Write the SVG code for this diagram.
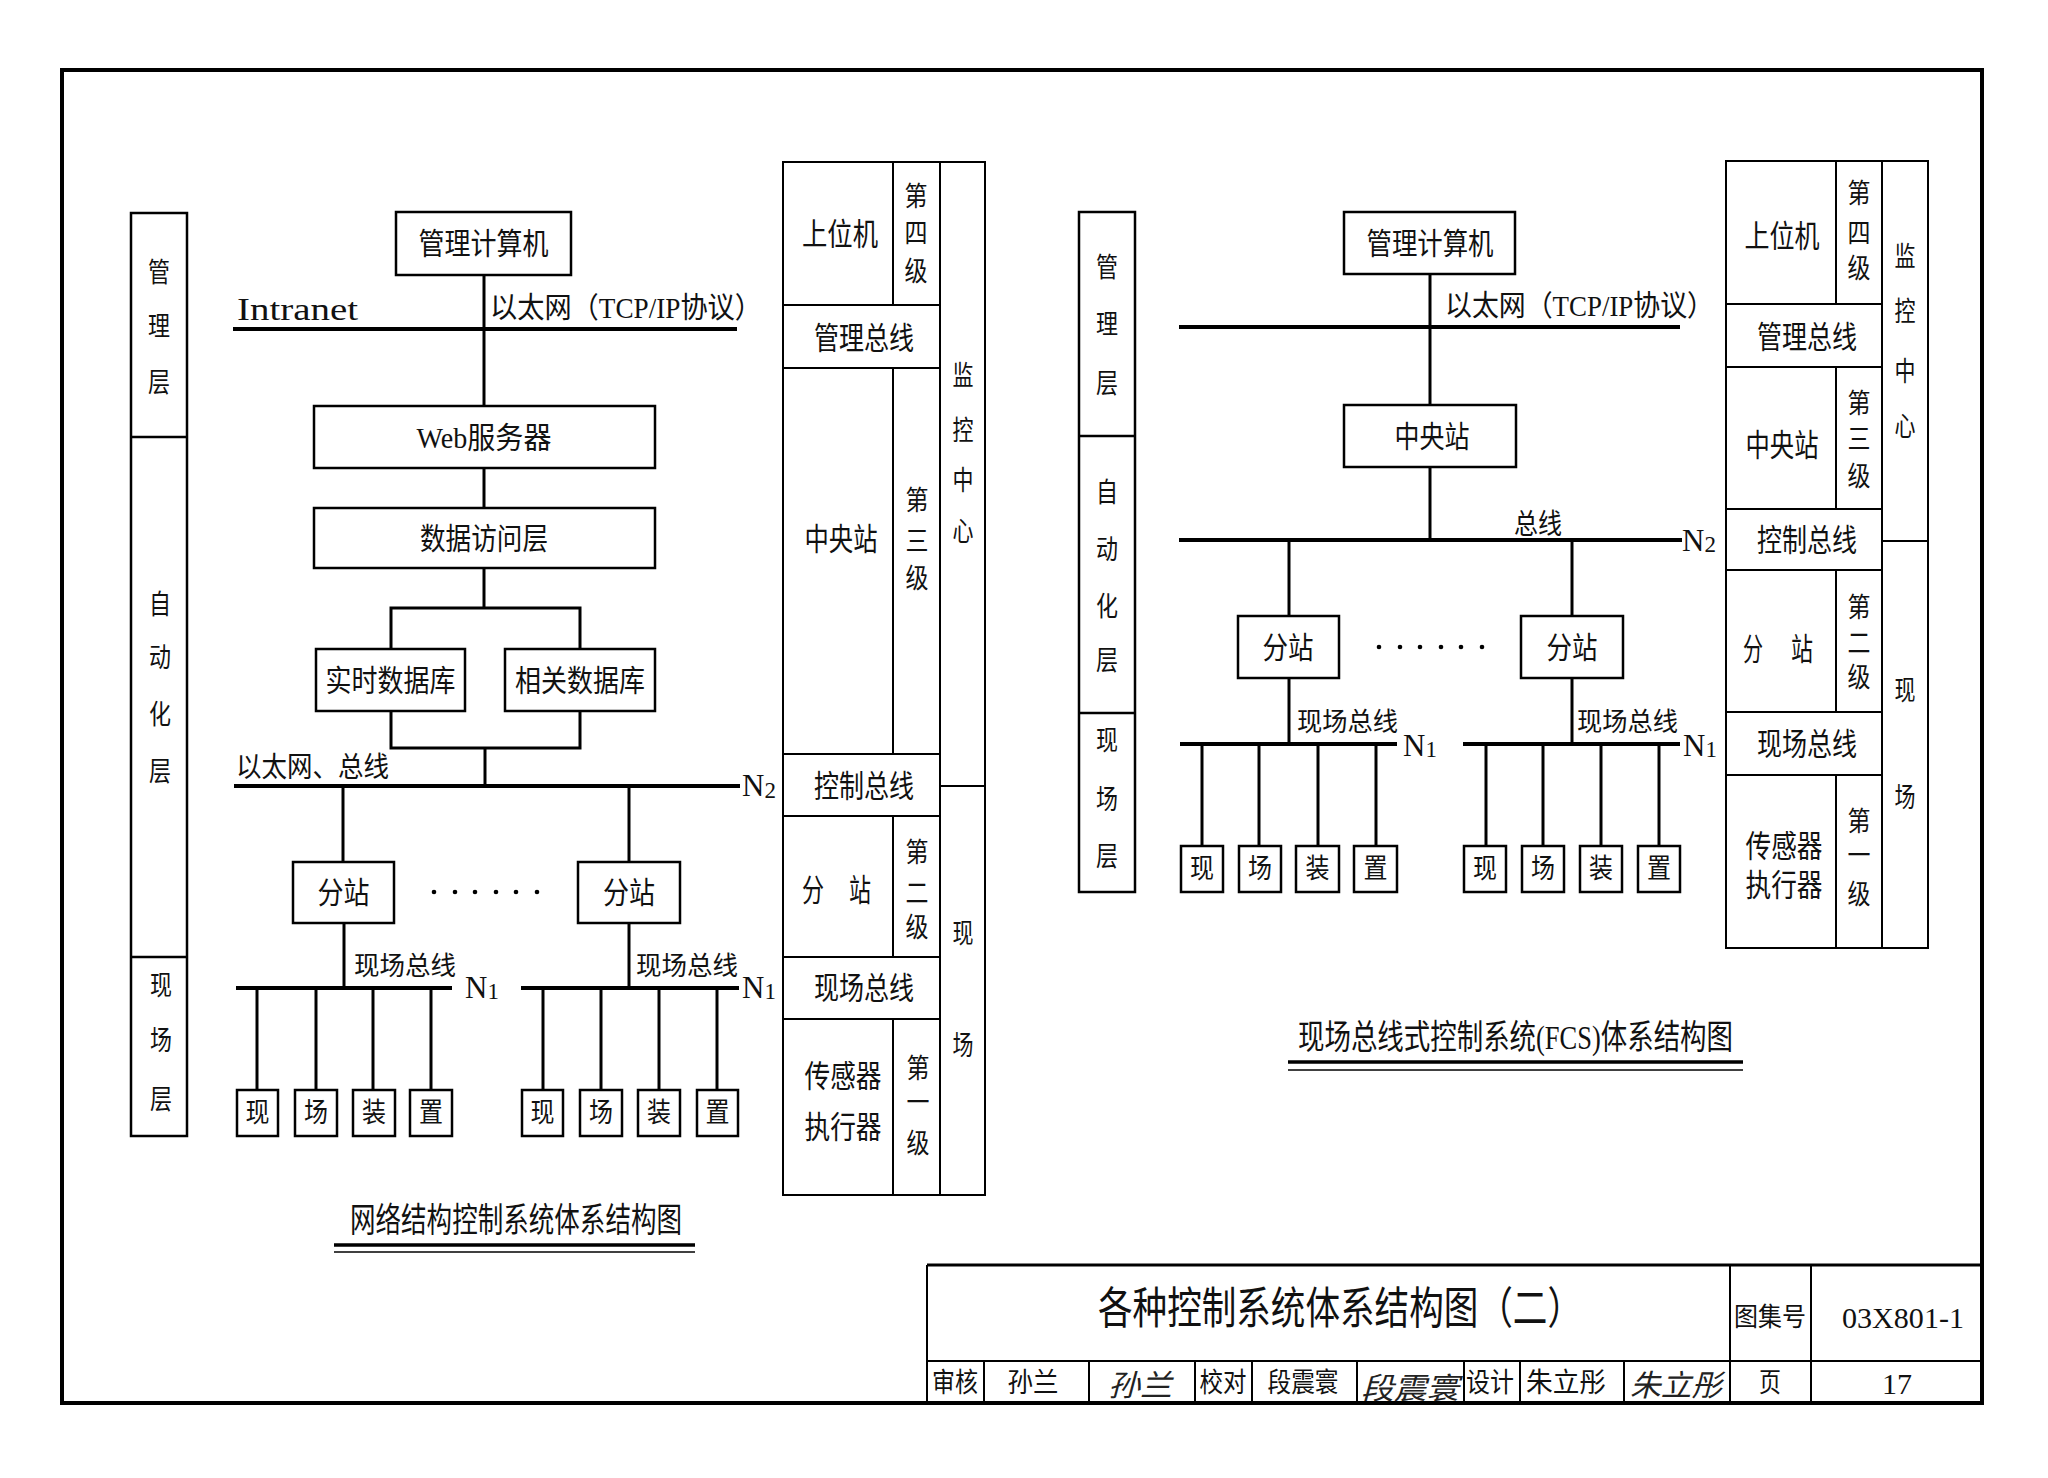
<svg xmlns="http://www.w3.org/2000/svg" width="2048" height="1478" viewBox="0 0 2048 1478">
<style>
.b{fill:none;stroke:#000;stroke-width:2.5}
.bus{stroke:#000;stroke-width:4;fill:none}
.ln{stroke:#000;stroke-width:3;fill:none}
.tl{stroke:#000;stroke-width:2;fill:none}
.t{font-family:"Liberation Serif","Noto Sans CJK SC",serif;font-size:30px;dominant-baseline:central;text-anchor:middle;fill:#111}
.s{text-anchor:start}
.c{font-size:27px}
.n{font-family:"Liberation Serif",serif;font-size:31px;fill:#111}
.sub{font-size:23px}
.fb{font-size:26px}
.sig{font-family:"Noto Sans CJK SC",sans-serif;font-size:30px;font-style:italic;dominant-baseline:central;text-anchor:middle;fill:#222}
.dot{fill:#000}
</style>
<rect width="2048" height="1478" fill="#fff"/>
<!-- frame -->
<rect x="62" y="70" width="1920" height="1333" fill="none" stroke="#000" stroke-width="4"/>

<!-- ============ LEFT DIAGRAM ============ -->
<g id="left-layers">
<rect class="b" x="131" y="213" width="56" height="923"/>
<line class="b" x1="131" y1="437" x2="187" y2="437"/>
<line class="b" x1="131" y1="957" x2="187" y2="957"/>
<text class="t c" x="159" y="273" textLength="22" lengthAdjust="spacingAndGlyphs">管</text>
<text class="t c" x="159" y="327" textLength="22" lengthAdjust="spacingAndGlyphs">理</text>
<text class="t c" x="159" y="383" textLength="22" lengthAdjust="spacingAndGlyphs">层</text>
<text class="t c" x="160" y="605" textLength="22" lengthAdjust="spacingAndGlyphs">自</text>
<text class="t c" x="160" y="658" textLength="22" lengthAdjust="spacingAndGlyphs">动</text>
<text class="t c" x="160" y="715" textLength="22" lengthAdjust="spacingAndGlyphs">化</text>
<text class="t c" x="160" y="772" textLength="22" lengthAdjust="spacingAndGlyphs">层</text>
<text class="t c" x="161" y="986" textLength="22" lengthAdjust="spacingAndGlyphs">现</text>
<text class="t c" x="161" y="1041" textLength="22" lengthAdjust="spacingAndGlyphs">场</text>
<text class="t c" x="161" y="1100" textLength="22" lengthAdjust="spacingAndGlyphs">层</text>
</g>

<g id="L-connectors">
<line class="ln" x1="484" y1="275" x2="484" y2="406"/>
<line class="bus" x1="233" y1="329" x2="737" y2="329"/>
<line class="ln" x1="484" y1="468" x2="484" y2="508"/>
<line class="ln" x1="484" y1="568" x2="484" y2="608"/>
<path class="ln" d="M391,649 V608 H580 V649"/>
<path class="ln" d="M391,711 V748 H580 V711"/>
<line class="ln" x1="485" y1="748" x2="485" y2="786"/>
<line class="bus" x1="234" y1="786" x2="740" y2="786"/>
<line class="ln" x1="343" y1="786" x2="343" y2="862"/>
<line class="ln" x1="629" y1="786" x2="629" y2="862"/>
<line class="ln" x1="344" y1="923" x2="344" y2="988"/>
<line class="ln" x1="629" y1="923" x2="629" y2="988"/>
<line class="bus" x1="236" y1="988" x2="452" y2="988"/>
<line class="bus" x1="521" y1="988" x2="739" y2="988"/>
<line class="ln" x1="257" y1="988" x2="257" y2="1090"/>
<line class="ln" x1="316" y1="988" x2="316" y2="1090"/>
<line class="ln" x1="373" y1="988" x2="373" y2="1090"/>
<line class="ln" x1="431" y1="988" x2="431" y2="1090"/>
<line class="ln" x1="543" y1="988" x2="543" y2="1090"/>
<line class="ln" x1="601" y1="988" x2="601" y2="1090"/>
<line class="ln" x1="659" y1="988" x2="659" y2="1090"/>
<line class="ln" x1="717" y1="988" x2="717" y2="1090"/>
</g>

<g id="L-mgmt-pc"><rect class="b" x="396" y="212" width="175" height="63"/><text class="t" x="483.5" y="243.5" textLength="130" lengthAdjust="spacingAndGlyphs">管理计算机</text></g>
<g id="L-web"><rect class="b" x="314" y="406" width="341" height="62"/><text class="t" x="484" y="437" textLength="135" lengthAdjust="spacingAndGlyphs">Web服务器</text></g>
<g id="L-dal"><rect class="b" x="314" y="508" width="341" height="60"/><text class="t" x="484" y="538" textLength="128" lengthAdjust="spacingAndGlyphs">数据访问层</text></g>
<g id="L-rtdb"><rect class="b" x="316" y="649" width="149" height="62"/><text class="t" x="390.5" y="680" textLength="130" lengthAdjust="spacingAndGlyphs">实时数据库</text></g>
<g id="L-reldb"><rect class="b" x="505" y="649" width="150" height="62"/><text class="t" x="580" y="680" textLength="130" lengthAdjust="spacingAndGlyphs">相关数据库</text></g>
<g id="L-sub1"><rect class="b" x="293" y="862" width="101" height="61"/><text class="t" x="343.5" y="892.5" textLength="52" lengthAdjust="spacingAndGlyphs">分站</text></g>
<g id="L-sub2"><rect class="b" x="578" y="862" width="102" height="61"/><text class="t" x="629" y="892.5" textLength="52" lengthAdjust="spacingAndGlyphs">分站</text></g>
<g id="L-dots">
<circle class="dot" cx="434" cy="892" r="2.3"/><circle class="dot" cx="455" cy="892" r="2.3"/><circle class="dot" cx="475" cy="892" r="2.3"/><circle class="dot" cx="496" cy="892" r="2.3"/><circle class="dot" cx="516" cy="892" r="2.3"/><circle class="dot" cx="537" cy="892" r="2.3"/>
</g>
<g id="L-dev-a">
<rect class="b" x="237" y="1090" width="41" height="46"/><text class="t c" x="257.5" y="1113" textLength="24" lengthAdjust="spacingAndGlyphs">现</text>
<rect class="b" x="295" y="1090" width="42" height="46"/><text class="t c" x="316" y="1113" textLength="24" lengthAdjust="spacingAndGlyphs">场</text>
<rect class="b" x="353" y="1090" width="42" height="46"/><text class="t c" x="374" y="1113" textLength="24" lengthAdjust="spacingAndGlyphs">装</text>
<rect class="b" x="410" y="1090" width="42" height="46"/><text class="t c" x="431" y="1113" textLength="24" lengthAdjust="spacingAndGlyphs">置</text>
</g>
<g id="L-dev-b">
<rect class="b" x="522" y="1090" width="41" height="46"/><text class="t c" x="542.5" y="1113" textLength="24" lengthAdjust="spacingAndGlyphs">现</text>
<rect class="b" x="580" y="1090" width="42" height="46"/><text class="t c" x="601" y="1113" textLength="24" lengthAdjust="spacingAndGlyphs">场</text>
<rect class="b" x="638" y="1090" width="42" height="46"/><text class="t c" x="659" y="1113" textLength="24" lengthAdjust="spacingAndGlyphs">装</text>
<rect class="b" x="697" y="1090" width="41" height="46"/><text class="t c" x="717.5" y="1113" textLength="24" lengthAdjust="spacingAndGlyphs">置</text>
</g>
<g id="L-labels">
<text class="t s" x="237" y="309" style="font-size:32px" textLength="121" lengthAdjust="spacingAndGlyphs">Intranet</text>
<text class="t s" x="490" y="308" style="font-size:29px" textLength="272" lengthAdjust="spacingAndGlyphs">以太网（TCP/IP协议）</text>
<text class="t s" x="236" y="767" style="font-size:28px" textLength="153" lengthAdjust="spacingAndGlyphs">以太网、总线</text>
<text class="n" x="742" y="796">N<tspan class="sub" dy="2">2</tspan></text>
<text class="t s fb" x="354" y="966" textLength="102" lengthAdjust="spacingAndGlyphs">现场总线</text>
<text class="t s fb" x="636" y="966" textLength="102" lengthAdjust="spacingAndGlyphs">现场总线</text>
<text class="n" x="465" y="998">N<tspan class="sub" dy="1">1</tspan></text>
<text class="n" x="742" y="998">N<tspan class="sub" dy="1">1</tspan></text>
</g>
<g id="L-caption">
<text class="t s" x="350" y="1220" style="font-size:34px" textLength="332" lengthAdjust="spacingAndGlyphs">网络结构控制系统体系结构图</text>
<line x1="334" y1="1245" x2="695" y2="1245" stroke="#000" stroke-width="3.5"/>
<line x1="334" y1="1252" x2="695" y2="1252" stroke="#000" stroke-width="1.5"/>
</g>

<g id="L-levels">
<rect class="tl" x="783" y="162" width="202" height="1033"/>
<line class="tl" x1="940" y1="162" x2="940" y2="1195"/>
<line class="tl" x1="783" y1="305" x2="940" y2="305"/>
<line class="tl" x1="783" y1="368" x2="940" y2="368"/>
<line class="tl" x1="783" y1="754" x2="940" y2="754"/>
<line class="tl" x1="783" y1="816" x2="940" y2="816"/>
<line class="tl" x1="783" y1="957" x2="940" y2="957"/>
<line class="tl" x1="783" y1="1019" x2="940" y2="1019"/>
<line class="tl" x1="893" y1="162" x2="893" y2="305"/>
<line class="tl" x1="893" y1="368" x2="893" y2="754"/>
<line class="tl" x1="893" y1="816" x2="893" y2="957"/>
<line class="tl" x1="893" y1="1019" x2="893" y2="1195"/>
<line class="tl" x1="940" y1="786" x2="985" y2="786"/>
<text class="t" x="840" y="234" style="font-size:31px" textLength="76" lengthAdjust="spacingAndGlyphs">上位机</text>
<text class="t c" x="916" y="197" textLength="23" lengthAdjust="spacingAndGlyphs">第</text>
<text class="t c" x="916" y="234" textLength="23" lengthAdjust="spacingAndGlyphs">四</text>
<text class="t c" x="916" y="272" textLength="23" lengthAdjust="spacingAndGlyphs">级</text>
<text class="t" x="864" y="338" style="font-size:31px" textLength="100" lengthAdjust="spacingAndGlyphs">管理总线</text>
<text class="t" x="841" y="539" style="font-size:31px" textLength="73" lengthAdjust="spacingAndGlyphs">中央站</text>
<text class="t c" x="917" y="501" textLength="23" lengthAdjust="spacingAndGlyphs">第</text>
<text class="t c" x="917" y="542" textLength="23" lengthAdjust="spacingAndGlyphs">三</text>
<text class="t c" x="917" y="579" textLength="23" lengthAdjust="spacingAndGlyphs">级</text>
<text class="t c" x="963" y="376" textLength="21" lengthAdjust="spacingAndGlyphs">监</text>
<text class="t c" x="963" y="431" textLength="21" lengthAdjust="spacingAndGlyphs">控</text>
<text class="t c" x="963" y="481" textLength="21" lengthAdjust="spacingAndGlyphs">中</text>
<text class="t c" x="963" y="532" textLength="21" lengthAdjust="spacingAndGlyphs">心</text>
<text class="t" x="864" y="786" style="font-size:31px" textLength="100" lengthAdjust="spacingAndGlyphs">控制总线</text>
<text class="t" x="813" y="890" style="font-size:31px" textLength="22" lengthAdjust="spacingAndGlyphs">分</text>
<text class="t" x="860" y="890" style="font-size:31px" textLength="22" lengthAdjust="spacingAndGlyphs">站</text>
<text class="t c" x="917" y="853" textLength="23" lengthAdjust="spacingAndGlyphs">第</text>
<text class="t c" x="917" y="894" textLength="23" lengthAdjust="spacingAndGlyphs">二</text>
<text class="t c" x="917" y="928" textLength="23" lengthAdjust="spacingAndGlyphs">级</text>
<text class="t" x="864" y="988" style="font-size:31px" textLength="100" lengthAdjust="spacingAndGlyphs">现场总线</text>
<text class="t" x="843" y="1076" style="font-size:31px" textLength="77" lengthAdjust="spacingAndGlyphs">传感器</text>
<text class="t" x="843" y="1127" style="font-size:31px" textLength="77" lengthAdjust="spacingAndGlyphs">执行器</text>
<text class="t c" x="918" y="1069" textLength="23" lengthAdjust="spacingAndGlyphs">第</text>
<text class="t c" x="918" y="1103" textLength="23" lengthAdjust="spacingAndGlyphs">一</text>
<text class="t c" x="918" y="1144" textLength="23" lengthAdjust="spacingAndGlyphs">级</text>
<text class="t c" x="963" y="934" textLength="21" lengthAdjust="spacingAndGlyphs">现</text>
<text class="t c" x="963" y="1046" textLength="21" lengthAdjust="spacingAndGlyphs">场</text>
</g>

<!-- ============ RIGHT DIAGRAM ============ -->
<g id="right-layers">
<rect class="b" x="1079" y="212" width="56" height="680"/>
<line class="b" x1="1079" y1="436" x2="1135" y2="436"/>
<line class="b" x1="1079" y1="713" x2="1135" y2="713"/>
<text class="t c" x="1107" y="268" textLength="22" lengthAdjust="spacingAndGlyphs">管</text>
<text class="t c" x="1107" y="325" textLength="22" lengthAdjust="spacingAndGlyphs">理</text>
<text class="t c" x="1107" y="384" textLength="22" lengthAdjust="spacingAndGlyphs">层</text>
<text class="t c" x="1107" y="493" textLength="22" lengthAdjust="spacingAndGlyphs">自</text>
<text class="t c" x="1107" y="550" textLength="22" lengthAdjust="spacingAndGlyphs">动</text>
<text class="t c" x="1107" y="607" textLength="22" lengthAdjust="spacingAndGlyphs">化</text>
<text class="t c" x="1107" y="661" textLength="22" lengthAdjust="spacingAndGlyphs">层</text>
<text class="t c" x="1107" y="741" textLength="22" lengthAdjust="spacingAndGlyphs">现</text>
<text class="t c" x="1107" y="800" textLength="22" lengthAdjust="spacingAndGlyphs">场</text>
<text class="t c" x="1107" y="857" textLength="22" lengthAdjust="spacingAndGlyphs">层</text>
</g>

<g id="R-connectors">
<line class="ln" x1="1430" y1="274" x2="1430" y2="405"/>
<line class="bus" x1="1179" y1="327" x2="1680" y2="327"/>
<line class="ln" x1="1430" y1="467" x2="1430" y2="540"/>
<line class="bus" x1="1179" y1="540" x2="1682" y2="540"/>
<line class="ln" x1="1289" y1="540" x2="1289" y2="616"/>
<line class="ln" x1="1572" y1="540" x2="1572" y2="616"/>
<line class="ln" x1="1289" y1="678" x2="1289" y2="744"/>
<line class="ln" x1="1572" y1="678" x2="1572" y2="744"/>
<line class="bus" x1="1180" y1="744" x2="1397" y2="744"/>
<line class="bus" x1="1463" y1="744" x2="1680" y2="744"/>
<line class="ln" x1="1202" y1="744" x2="1202" y2="846"/>
<line class="ln" x1="1259" y1="744" x2="1259" y2="846"/>
<line class="ln" x1="1318" y1="744" x2="1318" y2="846"/>
<line class="ln" x1="1376" y1="744" x2="1376" y2="846"/>
<line class="ln" x1="1486" y1="744" x2="1486" y2="846"/>
<line class="ln" x1="1543" y1="744" x2="1543" y2="846"/>
<line class="ln" x1="1601" y1="744" x2="1601" y2="846"/>
<line class="ln" x1="1659" y1="744" x2="1659" y2="846"/>
</g>

<g id="R-mgmt-pc"><rect class="b" x="1344" y="212" width="171" height="62"/><text class="t" x="1430" y="243" textLength="127" lengthAdjust="spacingAndGlyphs">管理计算机</text></g>
<g id="R-central"><rect class="b" x="1344" y="405" width="172" height="62"/><text class="t" x="1432" y="436" textLength="75" lengthAdjust="spacingAndGlyphs">中央站</text></g>
<g id="R-sub1"><rect class="b" x="1238" y="616" width="101" height="62"/><text class="t" x="1288" y="647" textLength="51" lengthAdjust="spacingAndGlyphs">分站</text></g>
<g id="R-sub2"><rect class="b" x="1521" y="616" width="102" height="62"/><text class="t" x="1572" y="647" textLength="51" lengthAdjust="spacingAndGlyphs">分站</text></g>
<g id="R-dots">
<circle class="dot" cx="1379" cy="647" r="2.3"/><circle class="dot" cx="1400" cy="647" r="2.3"/><circle class="dot" cx="1420" cy="647" r="2.3"/><circle class="dot" cx="1441" cy="647" r="2.3"/><circle class="dot" cx="1461" cy="647" r="2.3"/><circle class="dot" cx="1482" cy="647" r="2.3"/>
</g>
<g id="R-dev-a">
<rect class="b" x="1181" y="846" width="42" height="46"/><text class="t c" x="1202" y="869" textLength="24" lengthAdjust="spacingAndGlyphs">现</text>
<rect class="b" x="1239" y="846" width="42" height="46"/><text class="t c" x="1260" y="869" textLength="24" lengthAdjust="spacingAndGlyphs">场</text>
<rect class="b" x="1296" y="846" width="43" height="46"/><text class="t c" x="1317.5" y="869" textLength="24" lengthAdjust="spacingAndGlyphs">装</text>
<rect class="b" x="1354" y="846" width="43" height="46"/><text class="t c" x="1375.5" y="869" textLength="24" lengthAdjust="spacingAndGlyphs">置</text>
</g>
<g id="R-dev-b">
<rect class="b" x="1464" y="846" width="42" height="46"/><text class="t c" x="1485" y="869" textLength="24" lengthAdjust="spacingAndGlyphs">现</text>
<rect class="b" x="1522" y="846" width="42" height="46"/><text class="t c" x="1543" y="869" textLength="24" lengthAdjust="spacingAndGlyphs">场</text>
<rect class="b" x="1580" y="846" width="42" height="46"/><text class="t c" x="1601" y="869" textLength="24" lengthAdjust="spacingAndGlyphs">装</text>
<rect class="b" x="1638" y="846" width="42" height="46"/><text class="t c" x="1659" y="869" textLength="24" lengthAdjust="spacingAndGlyphs">置</text>
</g>
<g id="R-labels">
<text class="t s" x="1445" y="306" style="font-size:29px" textLength="269" lengthAdjust="spacingAndGlyphs">以太网（TCP/IP协议）</text>
<text class="t s" x="1514" y="524" style="font-size:28px" textLength="48" lengthAdjust="spacingAndGlyphs">总线</text>
<text class="n" x="1682" y="551">N<tspan class="sub" dy="1">2</tspan></text>
<text class="t s fb" x="1297" y="722" textLength="101" lengthAdjust="spacingAndGlyphs">现场总线</text>
<text class="t s fb" x="1577" y="722" textLength="101" lengthAdjust="spacingAndGlyphs">现场总线</text>
<text class="n" x="1403" y="756">N<tspan class="sub" dy="1">1</tspan></text>
<text class="n" x="1683" y="756">N<tspan class="sub" dy="1">1</tspan></text>
</g>
<g id="R-caption">
<text class="t s" x="1298" y="1037" style="font-size:34px" textLength="435" lengthAdjust="spacingAndGlyphs">现场总线式控制系统(FCS)体系结构图</text>
<line x1="1288" y1="1062" x2="1743" y2="1062" stroke="#000" stroke-width="3.5"/>
<line x1="1288" y1="1070" x2="1743" y2="1070" stroke="#000" stroke-width="1.5"/>
</g>

<g id="R-levels">
<rect class="tl" x="1726" y="161" width="202" height="787"/>
<line class="tl" x1="1882" y1="161" x2="1882" y2="948"/>
<line class="tl" x1="1726" y1="304" x2="1882" y2="304"/>
<line class="tl" x1="1726" y1="367" x2="1882" y2="367"/>
<line class="tl" x1="1726" y1="509" x2="1882" y2="509"/>
<line class="tl" x1="1726" y1="570" x2="1882" y2="570"/>
<line class="tl" x1="1726" y1="712" x2="1882" y2="712"/>
<line class="tl" x1="1726" y1="775" x2="1882" y2="775"/>
<line class="tl" x1="1836" y1="161" x2="1836" y2="304"/>
<line class="tl" x1="1836" y1="367" x2="1836" y2="509"/>
<line class="tl" x1="1836" y1="570" x2="1836" y2="712"/>
<line class="tl" x1="1836" y1="775" x2="1836" y2="948"/>
<line class="tl" x1="1882" y1="541" x2="1928" y2="541"/>
<text class="t" x="1782" y="236" style="font-size:31px" textLength="75" lengthAdjust="spacingAndGlyphs">上位机</text>
<text class="t c" x="1859" y="194" textLength="23" lengthAdjust="spacingAndGlyphs">第</text>
<text class="t c" x="1859" y="234" textLength="23" lengthAdjust="spacingAndGlyphs">四</text>
<text class="t c" x="1859" y="269" textLength="23" lengthAdjust="spacingAndGlyphs">级</text>
<text class="t" x="1807" y="337" style="font-size:31px" textLength="100" lengthAdjust="spacingAndGlyphs">管理总线</text>
<text class="t" x="1782" y="445" style="font-size:31px" textLength="73" lengthAdjust="spacingAndGlyphs">中央站</text>
<text class="t c" x="1859" y="404" textLength="23" lengthAdjust="spacingAndGlyphs">第</text>
<text class="t c" x="1859" y="440" textLength="23" lengthAdjust="spacingAndGlyphs">三</text>
<text class="t c" x="1859" y="477" textLength="23" lengthAdjust="spacingAndGlyphs">级</text>
<text class="t" x="1807" y="540" style="font-size:31px" textLength="100" lengthAdjust="spacingAndGlyphs">控制总线</text>
<text class="t" x="1753" y="649" style="font-size:31px" textLength="20" lengthAdjust="spacingAndGlyphs">分</text>
<text class="t" x="1802" y="649" style="font-size:31px" textLength="22" lengthAdjust="spacingAndGlyphs">站</text>
<text class="t c" x="1859" y="608" textLength="23" lengthAdjust="spacingAndGlyphs">第</text>
<text class="t c" x="1859" y="644" textLength="23" lengthAdjust="spacingAndGlyphs">二</text>
<text class="t c" x="1859" y="678" textLength="23" lengthAdjust="spacingAndGlyphs">级</text>
<text class="t" x="1807" y="744" style="font-size:31px" textLength="100" lengthAdjust="spacingAndGlyphs">现场总线</text>
<text class="t" x="1784" y="846" style="font-size:31px" textLength="77" lengthAdjust="spacingAndGlyphs">传感器</text>
<text class="t" x="1784" y="885" style="font-size:31px" textLength="77" lengthAdjust="spacingAndGlyphs">执行器</text>
<text class="t c" x="1859" y="822" textLength="23" lengthAdjust="spacingAndGlyphs">第</text>
<text class="t c" x="1859" y="856" textLength="23" lengthAdjust="spacingAndGlyphs">一</text>
<text class="t c" x="1859" y="895" textLength="23" lengthAdjust="spacingAndGlyphs">级</text>
<text class="t c" x="1905" y="257" textLength="21" lengthAdjust="spacingAndGlyphs">监</text>
<text class="t c" x="1905" y="312" textLength="21" lengthAdjust="spacingAndGlyphs">控</text>
<text class="t c" x="1905" y="372" textLength="21" lengthAdjust="spacingAndGlyphs">中</text>
<text class="t c" x="1905" y="427" textLength="21" lengthAdjust="spacingAndGlyphs">心</text>
<text class="t c" x="1905" y="691" textLength="21" lengthAdjust="spacingAndGlyphs">现</text>
<text class="t c" x="1905" y="798" textLength="21" lengthAdjust="spacingAndGlyphs">场</text>
</g>

<!-- ============ TITLE BLOCK ============ -->
<g id="title-block">
<line x1="927" y1="1265" x2="1982" y2="1265" stroke="#000" stroke-width="3"/>
<line class="tl" x1="927" y1="1265" x2="927" y2="1403"/>
<line class="tl" x1="927" y1="1361" x2="1982" y2="1361"/>
<line class="tl" x1="1730" y1="1265" x2="1730" y2="1403"/>
<line class="tl" x1="1811" y1="1265" x2="1811" y2="1403"/>
<line class="tl" x1="984" y1="1361" x2="984" y2="1403"/>
<line class="tl" x1="1089" y1="1361" x2="1089" y2="1403"/>
<line class="tl" x1="1195" y1="1361" x2="1195" y2="1403"/>
<line class="tl" x1="1252" y1="1361" x2="1252" y2="1403"/>
<line class="tl" x1="1357" y1="1361" x2="1357" y2="1403"/>
<line class="tl" x1="1464" y1="1361" x2="1464" y2="1403"/>
<line class="tl" x1="1520" y1="1361" x2="1520" y2="1403"/>
<line class="tl" x1="1624" y1="1361" x2="1624" y2="1403"/>
<text class="t" x="1340" y="1309" style="font-size:44px" textLength="484" lengthAdjust="spacingAndGlyphs">各种控制系统体系结构图（二）</text>
<text class="t" x="1770" y="1317" style="font-size:26px" textLength="72" lengthAdjust="spacingAndGlyphs">图集号</text>
<text class="t" x="1903" y="1317" style="font-size:30px" textLength="122" lengthAdjust="spacingAndGlyphs">03X801-1</text>
<text class="t c" x="955" y="1383" textLength="46" lengthAdjust="spacingAndGlyphs">审核</text>
<text class="t c" x="1033" y="1383" textLength="51" lengthAdjust="spacingAndGlyphs">孙兰</text>
<text class="sig" x="1140" y="1383" textLength="64" lengthAdjust="spacingAndGlyphs">孙兰</text>
<text class="t c" x="1223" y="1383" textLength="47" lengthAdjust="spacingAndGlyphs">校对</text>
<text class="t c" x="1303" y="1383" textLength="71" lengthAdjust="spacingAndGlyphs">段震寰</text>
<text class="sig" x="1410" y="1386" textLength="98" lengthAdjust="spacingAndGlyphs">段震寰</text>
<text class="t c" x="1490" y="1383" textLength="48" lengthAdjust="spacingAndGlyphs">设计</text>
<text class="t c" x="1566" y="1383" textLength="80" lengthAdjust="spacingAndGlyphs">朱立彤</text>
<text class="sig" x="1676" y="1383" textLength="92" lengthAdjust="spacingAndGlyphs">朱立彤</text>
<text class="t c" x="1770" y="1383" textLength="22" lengthAdjust="spacingAndGlyphs">页</text>
<text class="t" x="1897" y="1383" style="font-size:30px" textLength="30" lengthAdjust="spacingAndGlyphs">17</text>
</g>
</svg>
